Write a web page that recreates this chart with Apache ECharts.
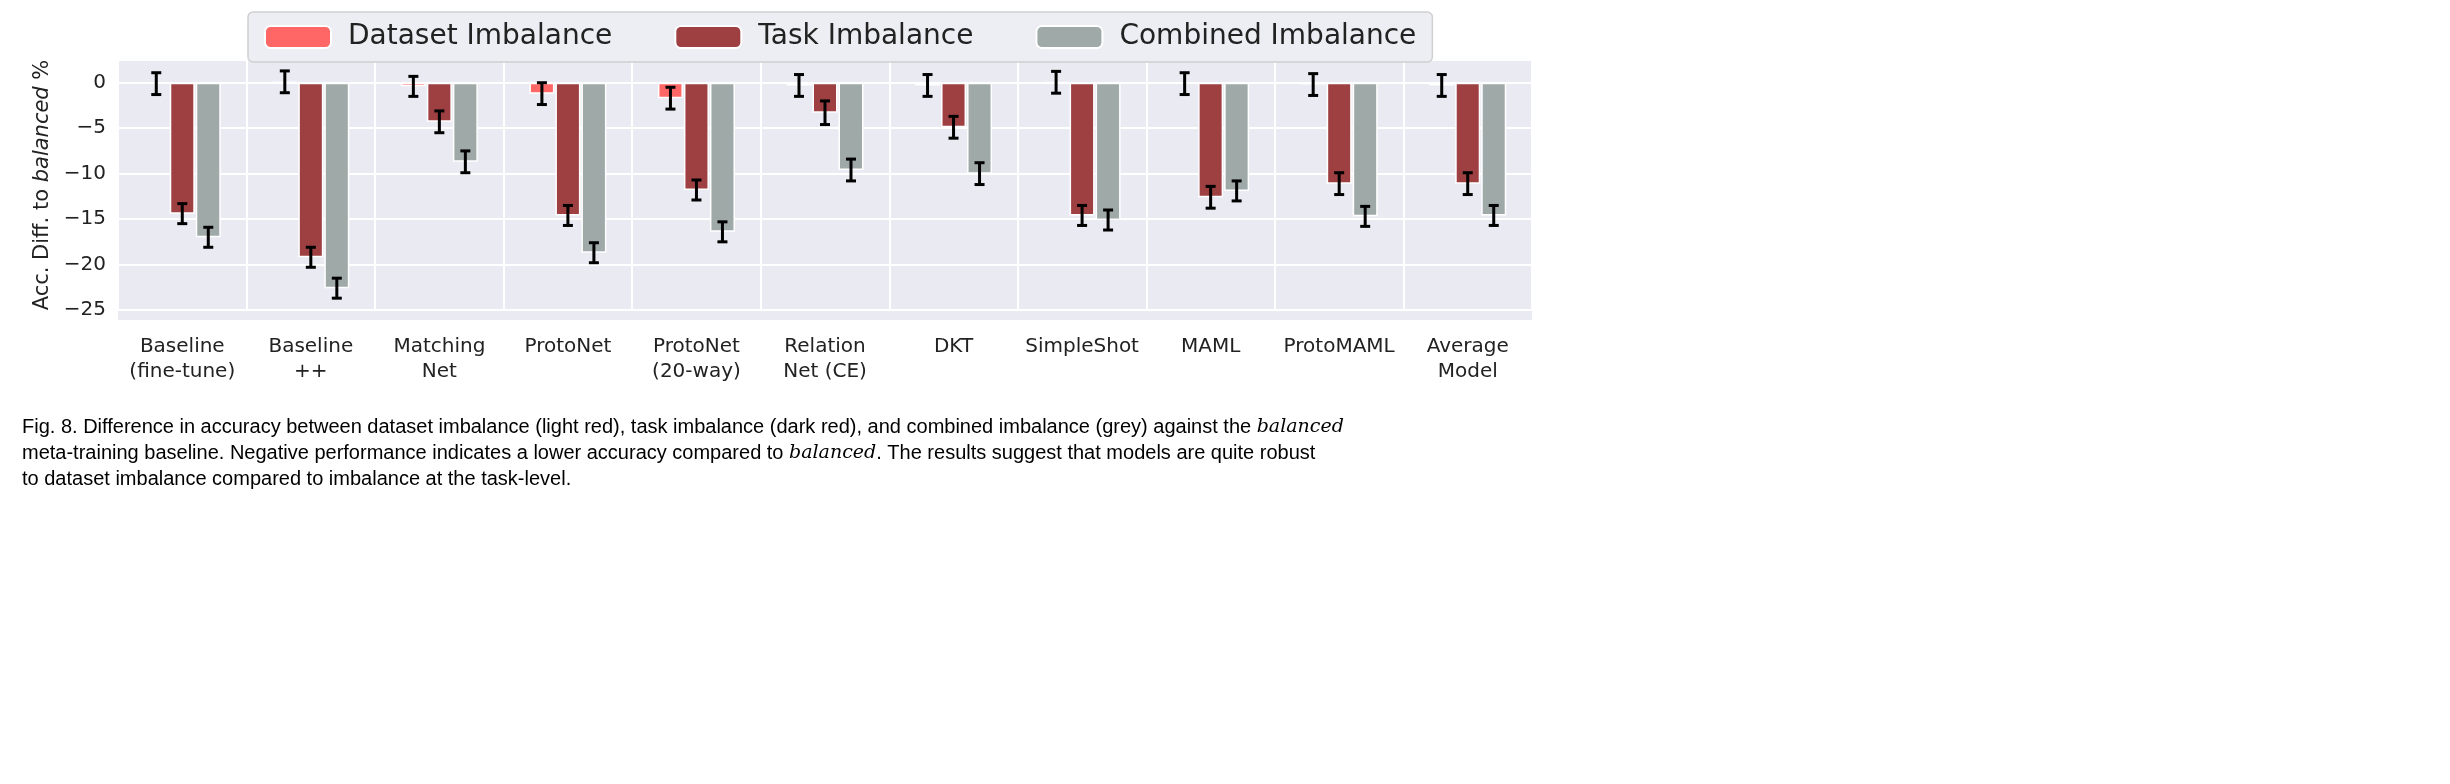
<!DOCTYPE html>
<html><head><meta charset="utf-8">
<script src="https://cdn.jsdelivr.net/npm/echarts@6/dist/echarts.min.js"></script>
<style>body{margin:0;background:#fff}#main{width:2450px;height:784px}</style>
</head><body><div id="main"></div>
<script>
var categories = ['Baseline\n(fine-tune)', 'Baseline\n++', 'Matching\nNet', 'ProtoNet', 'ProtoNet\n(20-way)', 'Relation\nNet (CE)', 'DKT', 'SimpleShot', 'MAML', 'ProtoMAML', 'Average\nModel'];
var datasetImb = [-0.1, 0.1, -0.4, -1.2, -1.7, -0.3, -0.3, 0.05, -0.1, -0.2, -0.3];
var datasetErr = [1.2, 1.2, 1.1, 1.2, 1.2, 1.2, 1.2, 1.2, 1.2, 1.2, 1.2];
var taskImb = [-14.4, -19.2, -4.3, -14.6, -11.8, -3.3, -4.9, -14.6, -12.6, -11.1, -11.1];
var taskErr = [1.1, 1.1, 1.2, 1.1, 1.1, 1.3, 1.2, 1.1, 1.2, 1.2, 1.2];
var combinedImb = [-17.0, -22.6, -8.7, -18.7, -16.4, -9.6, -10.0, -15.1, -11.9, -14.7, -14.6];
var combinedErr = [1.1, 1.1, 1.2, 1.1, 1.1, 1.2, 1.2, 1.1, 1.1, 1.1, 1.1];

var barW = 25;
function errSeries(vals, errs, offset) {
  return {
    type: 'custom', silent: true, z: 10,
    data: vals.map(function (v, i) { return [i, v - errs[i], v + errs[i]]; }),
    renderItem: function (params, api) {
      var lo = api.coord([api.value(0), api.value(1)]);
      var hi = api.coord([api.value(0), api.value(2)]);
      var x = lo[0] + offset, c = 5;
      var st = { stroke: '#000', lineWidth: 3 };
      return { type: 'group', children: [
        { type: 'line', shape: { x1: x, y1: lo[1], x2: x, y2: hi[1] }, style: st },
        { type: 'line', shape: { x1: x - c, y1: lo[1], x2: x + c, y2: lo[1] }, style: st },
        { type: 'line', shape: { x1: x - c, y1: hi[1], x2: x + c, y2: hi[1] }, style: st }
      ]};
    }
  };
}
function barSeries(name, vals, color) {
  return { name: name, type: 'bar', data: vals, barWidth: barW, barGap: '4%',
    itemStyle: { color: color, borderColor: '#fff', borderWidth: 1.5 } };
}
var f = 'DejaVu Sans';
var chart = echarts.init(document.getElementById('main'));
chart.setOption({
  animation: false,
  textStyle: { fontFamily: f },
  graphic: [
    { type: 'rect', z: -1, shape: { x: 118, y: 60, width: 1414, height: 260 }, style: { fill: '#eaeaf2' } },
    { type: 'text', left: 22, top: 414, style: { fontFamily: 'Liberation Sans', fontSize: 20, fill: '#000', lineHeight: 26,
      text: 'Fig. 8. Difference in accuracy between dataset imbalance (light red), task imbalance (dark red), and combined imbalance (grey) against the {i|balanced}\nmeta-training baseline. Negative performance indicates a lower accuracy compared to {i|balanced}. The results suggest that models are quite robust\nto dataset imbalance compared to imbalance at the task-level.',
      rich: { i: { fontFamily: 'DejaVu Serif', fontStyle: 'italic', fontSize: 19 } } } }
  ],
  legend: {
    top: 12, left: 248, itemWidth: 66, itemHeight: 22, itemGap: 62,
    backgroundColor: 'rgba(236,236,243,0.95)', borderColor: '#d0d0d0', borderWidth: 1.5, borderRadius: 5,
    padding: [11, 16, 11, 16],
    textStyle: { fontSize: 28, color: '#222', fontFamily: f, padding: [0, 0, 0, 12] },
    data: ['Dataset Imbalance', 'Task Imbalance', 'Combined Imbalance']
  },
  grid: { left: 118, right: 918, top: 60, bottom: 474 },
  xAxis: {
    type: 'category', data: categories,
    axisLine: { show: false }, axisTick: { show: false },
    splitLine: { show: true, interval: 0, lineStyle: { color: '#fff', width: 2 } },
    axisLabel: { fontSize: 20, color: '#222', margin: 24, lineHeight: 25, interval: 0 }
  },
  yAxis: {
    type: 'value', min: -25, max: 2.5, interval: 5,
    name: 'Acc. Diff. to {i|balanced} %', nameLocation: 'middle', nameGap: 62,
    nameTextStyle: { fontSize: 21, color: '#222', rich: { i: { fontStyle: 'italic', fontSize: 21, color: '#222' } } },
    axisLine: { show: false }, axisTick: { show: false },
    splitLine: { lineStyle: { color: '#fff', width: 2 } },
    axisLabel: { fontSize: 20, color: '#222', margin: 12,
      formatter: function (v) { return (v % 5 === 0) ? (v < 0 ? '\u2212' + (-v) : String(v)) : ''; } }
  },
  series: [
    barSeries('Dataset Imbalance', datasetImb, '#ff6666'),
    barSeries('Task Imbalance', taskImb, '#9e3f42'),
    barSeries('Combined Imbalance', combinedImb, '#9faaa8'),
    errSeries(datasetImb, datasetErr, -(barW + 1)),
    errSeries(taskImb, taskErr, 0),
    errSeries(combinedImb, combinedErr, barW + 1)
  ]
});
</script></body></html>
